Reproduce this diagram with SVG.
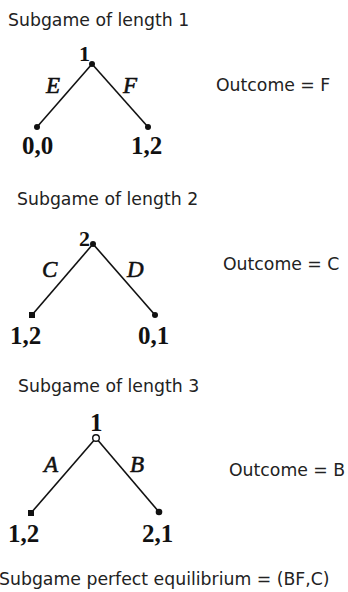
<svg xmlns="http://www.w3.org/2000/svg" width="348" height="592" viewBox="0 0 348 592">
<style>
.t{font-family:"DejaVu Sans",sans-serif;font-size:17.3px;fill:#222}
.n{font-family:"Liberation Serif","DejaVu Serif",serif;font-size:25px;font-weight:bold;fill:#111}
.r{font-family:"Liberation Serif","DejaVu Serif",serif;font-size:22px;font-weight:bold;fill:#111}
.l{font-family:"Liberation Serif","DejaVu Serif",serif;font-size:23px;font-style:italic;fill:#111;stroke:#111;stroke-width:0.6}
.e{stroke:#111;stroke-width:1.6;fill:none}
.d{fill:#111}
</style>
<rect width="348" height="592" fill="#fff"/>
<text class="t" x="8" y="26">Subgame of length 1</text>
<text class="t" x="216" y="91">Outcome = F</text>
<text class="t" x="17" y="205">Subgame of length 2</text>
<text class="t" x="223" y="270">Outcome = C</text>
<text class="t" x="18" y="392">Subgame of length 3</text>
<text class="t" x="229" y="476">Outcome = B</text>
<text class="t" x="-1" y="585">Subgame perfect equilibrium = (BF,C)</text>
<g id="connectors">
<line class="e" x1="92" y1="64" x2="37" y2="127"/>
<line class="e" x1="92" y1="64" x2="148" y2="127"/>
<line class="e" x1="93" y1="244" x2="32" y2="315"/>
<line class="e" x1="93" y1="244" x2="155" y2="315"/>
<line class="e" x1="96" y1="438" x2="31" y2="513"/>
<line class="e" x1="96" y1="438" x2="159" y2="512"/>
</g>
<g id="labels">
<text class="l" x="46" y="93">E</text>
<text class="l" x="123" y="93">F</text>
<text class="l" x="42" y="277">C</text>
<text class="l" x="127" y="277">D</text>
<text class="l" x="44" y="472">A</text>
<text class="l" x="130" y="472">B</text>
</g>
<g id="g1root"><circle class="d" cx="92" cy="64" r="3"/><text class="r" x="79" y="61">1</text></g>
<g id="g1left"><circle class="d" cx="37" cy="127" r="3"/><text class="n" x="22" y="154">0,0</text></g>
<g id="g1right"><circle class="d" cx="148" cy="127" r="3"/><text class="n" x="131" y="154">1,2</text></g>
<g id="g2root"><circle class="d" cx="93" cy="244" r="3"/><text class="r" x="79" y="246">2</text></g>
<g id="g2left"><rect class="d" x="29" y="312" width="6" height="6"/><text class="n" x="10" y="344">1,2</text></g>
<g id="g2right"><circle class="d" cx="155" cy="315" r="3"/><text class="n" x="138" y="344">0,1</text></g>
<g id="g3root"><circle cx="96" cy="438" r="3.3" fill="#fff" stroke="#111" stroke-width="1.4"/><text class="n" x="90" y="431">1</text></g>
<g id="g3left"><rect class="d" x="28" y="510" width="6" height="6"/><text class="n" x="8" y="542">1,2</text></g>
<g id="g3right"><circle class="d" cx="159" cy="512" r="3.3"/><text class="n" x="142" y="542">2,1</text></g>
</svg>
